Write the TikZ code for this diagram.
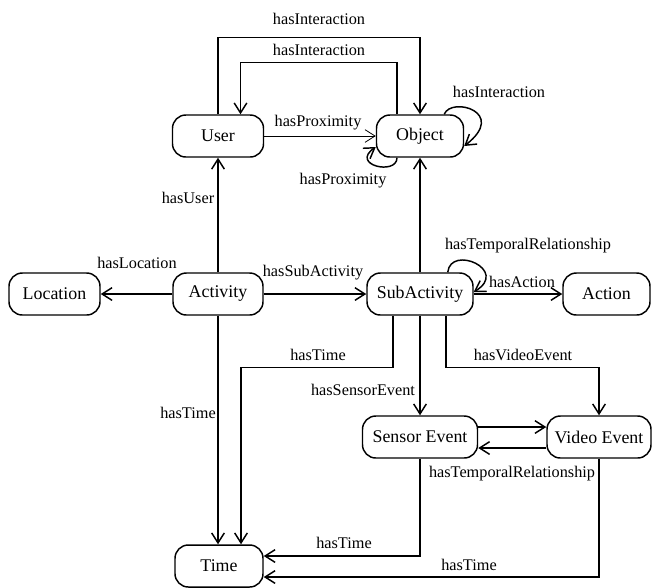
\documentclass[tikz,border=0pt]{standalone}
\usepackage{fontspec}
\setmainfont{Liberation Serif}
\usetikzlibrary{arrows.meta,calc}
\begin{document}
\begin{tikzpicture}[x=0.75pt,y=-0.75pt,
 box/.style={draw,line width=1.1pt,rounded corners=10pt,minimum height=31.5pt,inner sep=0pt,font=\fontsize{13.4}{16}\selectfont},
 lbl/.style={inner sep=0pt,font=\fontsize{12.2}{14}\selectfont},
 arr/.style={line width=1.1pt,-{Straight Barb[length=7.5pt,width=9.5pt]}},
 thinarr/.style={line width=0.6pt,-{Straight Barb[length=7.5pt,width=9.5pt]}}]
\useasboundingbox (0,0) rectangle (652,587);
% nodes
\node[box,minimum width=68.25pt] (User) at (218,136) {User};
\node[box,minimum width=65.25pt] (Object) at (420,136) {Object};
\node[box,minimum width=68.25pt] (Location) at (54.5,294) {Location};
\node[box,minimum width=67.5pt] (Activity) at (218,294) {Activity};
\node[box,minimum width=79.5pt] (SubActivity) at (420,294) {SubActivity};
\node[box,minimum width=65.25pt] (Action) at (606.5,294) {Action};
\node[box,minimum width=86.25pt] (Sensor) at (420,437) {Sensor Event};
\node[box,minimum width=78pt] (Video) at (599,437) {Video Event};
\node[box,minimum width=66pt] (Time) at (219,566) {Time};
% connectors
\draw[arr] (User.north) -- ++(0,-77) -| (Object.north);
\draw[arr] ($(Object.north)+(-23,0)$) -- ++(0,-52) -| ($(User.north)+(22.5,0)$);
\draw[thinarr] (User) -- (Object);
\draw[arr] ($(Object.north east)+(-20,0)$) .. controls +(7,-18) and +(44,-34) .. ($(Object.east)+(0,10)$);
\draw[arr] ($(Object.south)+(-23,0)$) .. controls +(0,18) and +(-26,18) .. ($(Object.west)+(0,11)$);
\draw[arr] (Activity) -- (User);
\draw[arr] (Activity) -- (Location);
\draw[arr] (Activity) -- (SubActivity);
\draw[arr] (SubActivity) -- (Object);
\draw[arr] (SubActivity) -- (Action);
\draw[arr] ($(SubActivity.north east)+(-26,0)$) .. controls +(3,-28) and +(36,-22) .. ($(SubActivity.east)+(0,-2)$);
\draw[arr] ($(SubActivity.south)+(-27,0)$) -- ++(0,52) -| ($(Time.north)+(22,0)$);
\draw[arr] (Activity.south) -- (Activity.south |- Time.north);
\draw[arr] (SubActivity) -- (Sensor);
\draw[arr] ($(SubActivity.south)+(26,0)$) -- ++(0,52) -| (Video.north);
\draw[arr] ($(Sensor.east)+(0,-10)$) -- ($(Video.west)+(0,-10)$);
\draw[arr] ($(Video.west)+(0,11)$) -- ($(Sensor.east)+(0,11)$);
\draw[arr] (Sensor.south) |- ($(Time.east)+(0,-10)$);
\draw[arr] (Video.south) |- ($(Time.east)+(0,11)$);
% labels
\node[lbl] (l1) at (319,19) {hasInteraction};
\node[lbl] (l2) at (319,50) {hasInteraction};
\node[lbl] (l3) at (499,92) {hasInteraction};
\node[lbl] (l4) at (318,123) {hasProximity};
\node[lbl] (l5) at (343,181) {hasProximity};
\node[lbl] (l6) at (188,198) {hasUser};
\node[lbl] (l7) at (137,263) {hasLocation};
\node[lbl] (l8) at (313,273) {hasSubActivity};
\node[lbl] (l9) at (528,246) {hasTemporalRelationship};
\node[lbl] (l10) at (522,282) {hasAction};
\node[lbl] (l11) at (318,355) {hasTime};
\node[lbl] (l12) at (523,355) {hasVideoEvent};
\node[lbl] (l13) at (363,390) {hasSensorEvent};
\node[lbl] (l14) at (188,413) {hasTime};
\node[lbl] (l15) at (512,474) {hasTemporalRelationship};
\node[lbl] (l16) at (344,543) {hasTime};
\node[lbl] (l17) at (469,565) {hasTime};
\end{tikzpicture}
\end{document}
